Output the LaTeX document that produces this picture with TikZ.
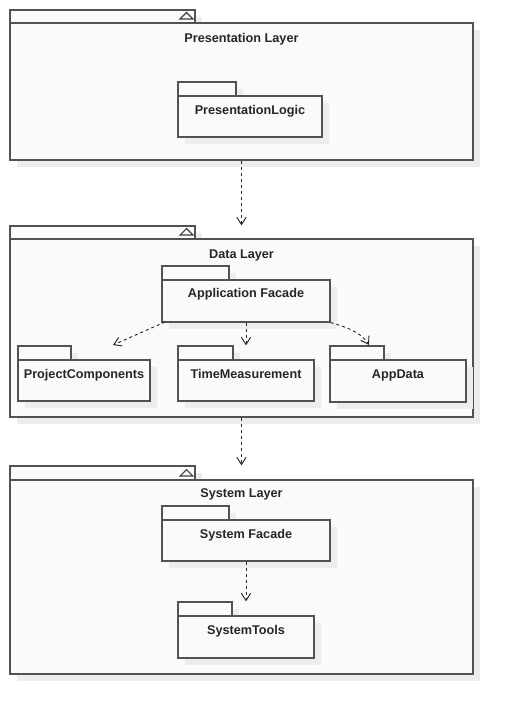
\documentclass[tikz,border=0pt]{standalone}
\usepackage{fontspec}
\setmainfont{Liberation Sans}
\usetikzlibrary{arrows.meta,fit,shadows}
\begin{document}
\begin{tikzpicture}[x=0.75pt,y=-0.75pt,
  shd/.style={drop shadow={shadow xshift=5.25pt,shadow yshift=-5.25pt,fill=black!7,opacity=1}},
  border/.style={draw=black!68,line width=0.9pt},
  box/.style={fit={#1},inner sep=0pt,border,fill=black!2,shd},
  lbl/.style={font=\bfseries\fontsize{9.5}{11}\selectfont,text=black!85,inner sep=0pt,anchor=base},
  tri/.style={draw=black!75,line width=0.8pt},
  dep/.style={draw=black!85,line width=0.7pt,dash pattern=on 2.25pt off 2.25pt,
    -{Straight Barb[length=5.5pt,width=7pt,line width=0.7pt]}}]
\useasboundingbox (0,0) rectangle (514,714);
% Presentation Layer
\node[box={(10,10)(195,23)}] (prestab) {};
\node[box={(10,23)(473,160)}] (pres) {};
\draw[tri] (180,19) -- (186.5,12.5) -- (193,19) -- cycle;
\node[lbl] (prestitle) at (241.5,42) {Presentation Layer};
\node[box={(178,82)(236,96)}] (pltab) {};
\node[box={(178,96)(322,137)}] (pl) {};
\node[lbl] (pltext) at (250,114) {PresentationLogic};
% Data Layer
\node[box={(10,226)(195,239)}] (datatab) {};
\node[box={(10,239)(473,417)}] (data) {};
\draw[tri] (180,235) -- (186.5,228.5) -- (193,235) -- cycle;
\node[lbl] (datatitle) at (241.5,258) {Data Layer};
\node[box={(162,266)(229,280)}] (aftab) {};
\node[box={(162,280)(330,322)}] (af) {};
\node[lbl] (aftext) at (246,297.5) {Application Facade};
\node[box={(18,346)(71,360)}] (pctab) {};
\node[box={(18,360)(150,401)}] (pc) {};
\node[lbl] (pctext) at (84,378) {ProjectComponents};
\node[box={(178,346)(233,360)}] (tmtab) {};
\node[box={(178,360)(314,401)}] (tm) {};
\node[lbl] (tmtext) at (246,378) {TimeMeasurement};
\node[box={(330,346)(384,360)}] (adtab) {};
\node[box={(330,360)(466,402)}] (ad) {};
\node[lbl] (adtext) at (398,378) {AppData};
\draw[border] (data.north east) -- (data.south east);
% System Layer
\node[box={(10,466)(195,480)}] (systab) {};
\node[box={(10,480)(473,674)}] (sys) {};
\draw[tri] (180,476) -- (186.5,469.5) -- (193,476) -- cycle;
\node[lbl] (systitle) at (241.5,497.5) {System Layer};
\node[box={(162,506)(229,520)}] (sftab) {};
\node[box={(162,520)(330,561)}] (sf) {};
\node[lbl] (sftext) at (246,538) {System Facade};
\node[box={(178,602)(232,616)}] (sttab) {};
\node[box={(178,616)(314,658)}] (st) {};
\node[lbl] (sttext) at (246,634) {SystemTools};
% connectors
\coordinate (pcend) at (113,345);
\coordinate (adend) at (369,345);
\coordinate (afsw) at (165,322);
\draw[dep] (pres.south) -- (pres.south |- datatab.north);
\draw[dep] (data.south) -- (data.south |- systab.north);
\draw[dep] (afsw) -- (pcend);
\draw[dep] (af.south) -- (af.south |- tmtab.north);
\draw[dep] (af.south east) .. controls (347,327) and (362,333) .. (adend);
\draw[dep] (sf.south) -- (sf.south |- sttab.north);
\end{tikzpicture}
\end{document}
